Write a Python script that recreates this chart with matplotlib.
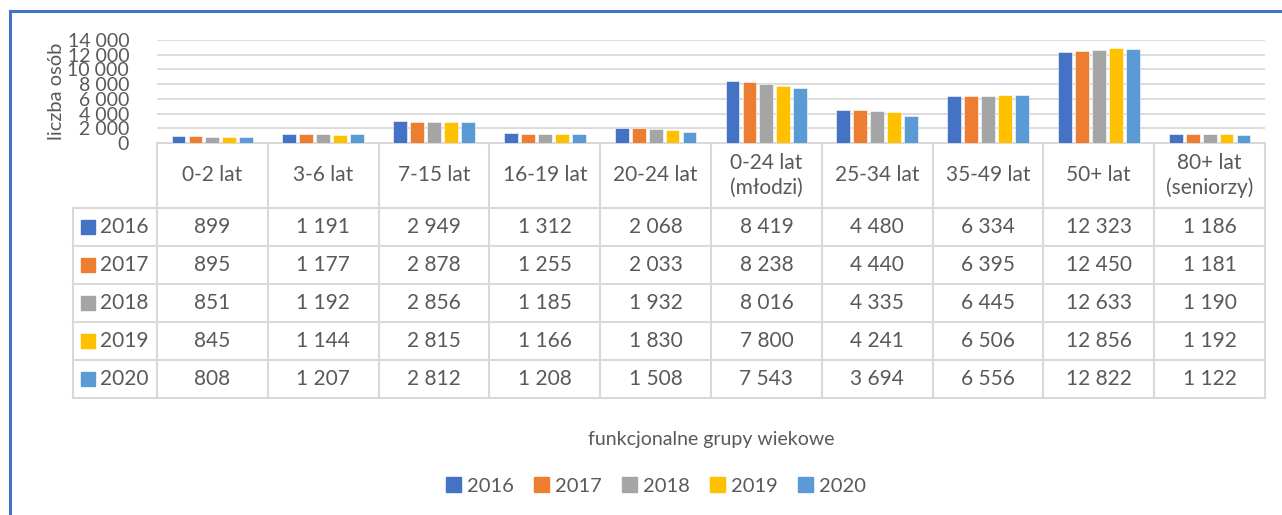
import matplotlib
matplotlib.use("Agg")
import matplotlib.pyplot as plt
from matplotlib.patches import Rectangle
from matplotlib.lines import Line2D

groups = ["0-2 lat", "3-6 lat", "7-15 lat", "16-19 lat", "20-24 lat",
          "0-24 lat\n(młodzi)", "25-34 lat", "35-49 lat", "50+ lat",
          "80+ lat\n(seniorzy)"]
years = ["2016", "2017", "2018", "2019", "2020"]
v2016 = [899, 1191, 2949, 1312, 2068, 8419, 4480, 6334, 12323, 1186]
v2017 = [895, 1177, 2878, 1255, 2033, 8238, 4440, 6395, 12450, 1181]
v2018 = [851, 1192, 2856, 1185, 1932, 8016, 4335, 6445, 12633, 1190]
v2019 = [845, 1144, 2815, 1166, 1830, 7800, 4241, 6506, 12856, 1192]
v2020 = [808, 1207, 2812, 1208, 1508, 7543, 3694, 6556, 12822, 1122]
series = [v2016, v2017, v2018, v2019, v2020]
colors = ["#4472C4", "#ED7D31", "#A5A5A5", "#FFC000", "#5B9BD5"]

TXT = "#595959"
GRID = "#d9d9d9"
plt.rcParams["font.family"] = ["Lato", "DejaVu Sans"]

W, H = 1282, 515
fig = plt.figure(figsize=(W / 100, H / 100), dpi=100)

# plot area in pixels
x0, x1 = 157, 1265
y_top, y_zero = 40, 143
axw = x1 - x0
axh = y_zero - y_top
ax = fig.add_axes([x0 / W, 1 - y_zero / H, axw / W, axh / H])

pitch = 0.153
bw = 0.125
for k, (vals, c) in enumerate(zip(series, colors)):
    xs = [i + (k - 2) * pitch for i in range(len(groups))]
    ax.bar(xs, vals, width=bw, color=c, edgecolor="white", linewidth=0.4,
           zorder=3)

ax.set_xlim(-0.5, len(groups) - 0.5)
ax.set_ylim(0, 14000)
ticks = list(range(0, 14001, 2000))
ax.set_yticks(ticks)
ax.set_yticklabels([f"{t:,}".replace(",", " ") for t in ticks],
                   fontsize=14, color=TXT)
ax.tick_params(axis="y", length=0, pad=20)
ax.set_xticks([])
ax.grid(axis="y", color=GRID, linewidth=1.3, zorder=0)
for s in ax.spines.values():
    s.set_visible(False)
ax.set_ylabel("liczba osób", fontsize=14.5, color=TXT, labelpad=2)


# ---- data table drawn by hand under the axes ----
def ax_x(px):
    return (px - x0) / axw


def ax_y(py):
    return (y_zero - py) / axh


def hline(py, xa, xb):
    ax.add_line(Line2D([ax_x(xa), ax_x(xb)], [ax_y(py), ax_y(py)],
                       transform=ax.transAxes, color=GRID, linewidth=1.5,
                       clip_on=False))


def vline(px, ya, yb):
    ax.add_line(Line2D([ax_x(px), ax_x(px)], [ax_y(ya), ax_y(yb)],
                       transform=ax.transAxes, color=GRID, linewidth=1.5,
                       clip_on=False))


key_left = 73
head_bottom = 208
row_h = 38
row_edges = [head_bottom + i * row_h for i in range(len(years) + 1)]
col_w = axw / len(groups)
col_edges = [x0 + i * col_w for i in range(len(groups) + 1)]

hline(y_zero, x0, x1)
for ry in row_edges:
    hline(ry, key_left, x1)
vline(key_left, head_bottom, row_edges[-1])
for cx in col_edges:
    vline(cx, y_zero, row_edges[-1])

for j, g in enumerate(groups):
    ax.text(ax_x(x0 + (j + 0.5) * col_w), ax_y((y_zero + head_bottom) / 2), g,
            transform=ax.transAxes, ha="center", va="center", fontsize=15,
            color=TXT, linespacing=1.25)

for r, (yr, vals, c) in enumerate(zip(years, series, colors)):
    yc = head_bottom + (r + 0.5) * row_h
    ax.add_patch(Rectangle((ax_x(81), ax_y(yc + 7)), 14 / axw, 14 / axh,
                           transform=ax.transAxes, color=c, clip_on=False))
    ax.text(ax_x(100), ax_y(yc), yr, transform=ax.transAxes, ha="left",
            va="center", fontsize=15, color=TXT)
    for j, v in enumerate(vals):
        ax.text(ax_x(x0 + (j + 0.5) * col_w), ax_y(yc),
                f"{v:,}".replace(",", " "), transform=ax.transAxes,
                ha="center", va="center", fontsize=15, color=TXT)

fig.text(711 / W, 1 - 440 / H, "funkcjonalne grupy wiekowe", ha="center",
         va="center", fontsize=14, color=TXT)

handles = [Rectangle((0, 0), 1, 1, color=c) for c in colors]
fig.legend(handles, years, loc="center", bbox_to_anchor=(656 / W, 1 - 486 / H),
           ncol=5, frameon=False, fontsize=14.5, labelcolor=TXT,
           handlelength=0.75, handleheight=0.75, handletextpad=0.3,
           columnspacing=1.0)

# frame of the surrounding document box
frame = "#4472C4"
fig.add_artist(Line2D([10 / W, 1.0], [1 - 11 / H, 1 - 11 / H],
                      transform=fig.transFigure, color=frame, linewidth=2.2))
fig.add_artist(Line2D([10 / W, 10 / W], [0, 1 - 11 / H],
                      transform=fig.transFigure, color=frame, linewidth=2.2))

fig.savefig("out.png", dpi=100)
